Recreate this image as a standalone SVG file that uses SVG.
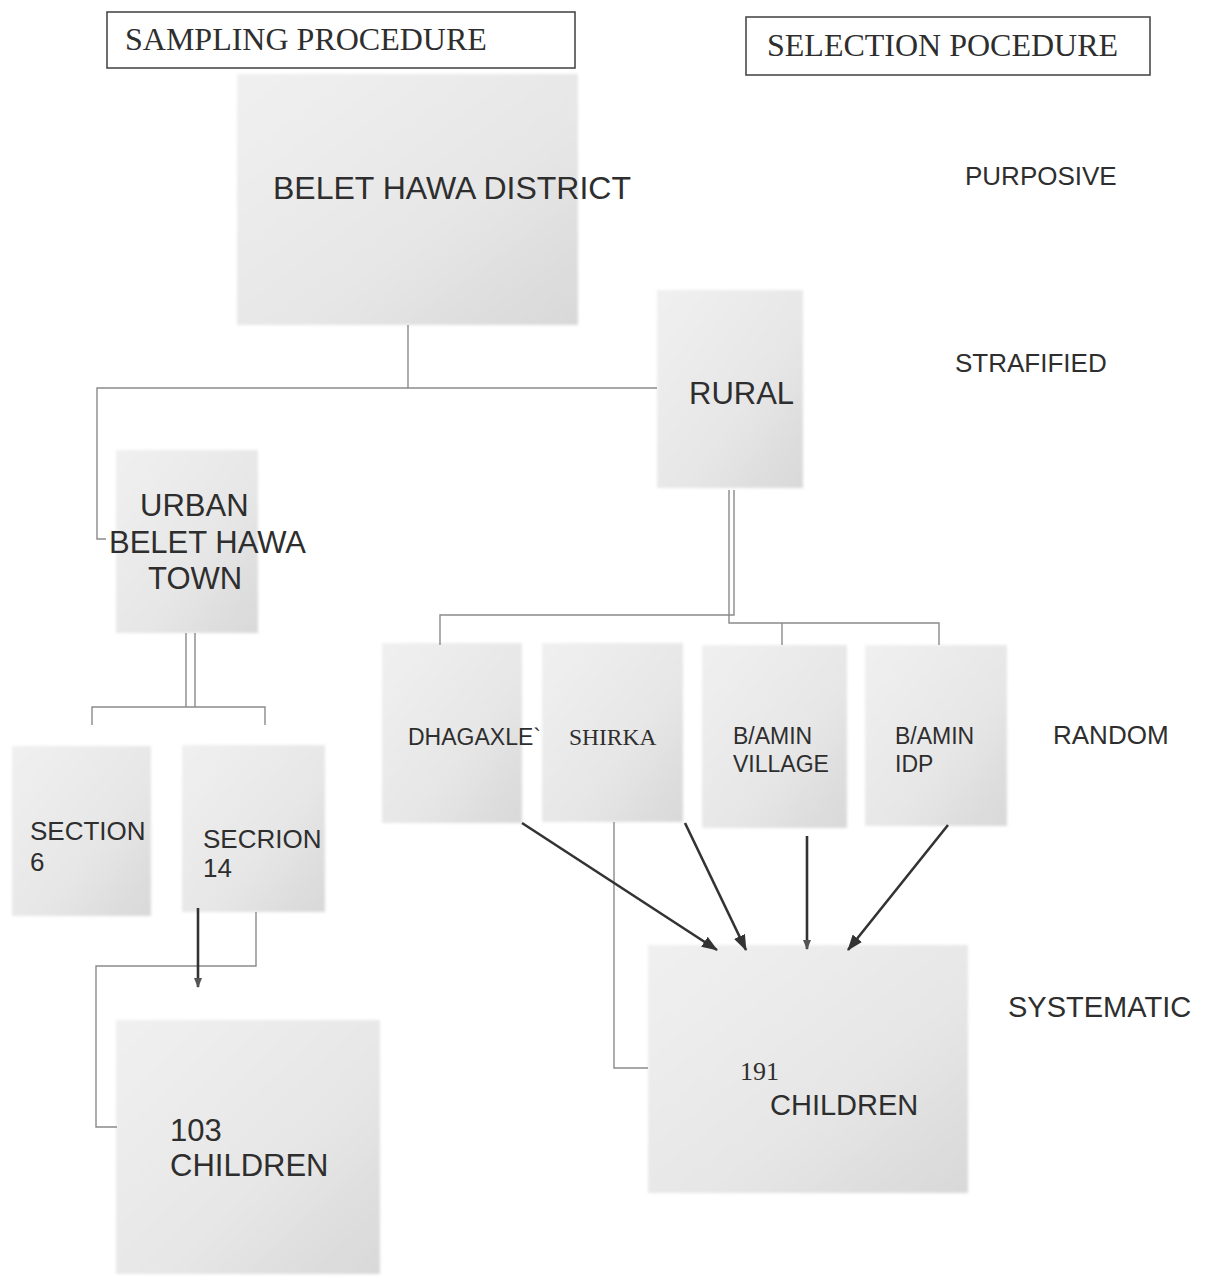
<svg xmlns="http://www.w3.org/2000/svg" width="1211" height="1284" viewBox="0 0 1211 1284">
<style>
.bg{fill:#ffffff}
.box{fill:url(#g);filter:url(#soft)}
.hdr{fill:#ffffff;stroke:#4a4a4a;stroke-width:1.6}
.ts{font-family:"Liberation Serif","Times New Roman",serif;fill:#2e2e2e}
.ta{font-family:"Liberation Sans",Arial,sans-serif;fill:#2e2e2e}
.thin{fill:none;stroke:#8a8a8a;stroke-width:1.4}
.thick{fill:none;stroke:#333333;stroke-width:2.6}
</style>
<defs>
<linearGradient id="g" x1="0" y1="0" x2="1" y2="1">
<stop offset="0" stop-color="#f0f0f0"/>
<stop offset="0.6" stop-color="#e6e6e6"/>
<stop offset="1" stop-color="#d8d8d8"/>
</linearGradient>
<filter id="soft" x="-5%" y="-5%" width="110%" height="110%">
<feGaussianBlur stdDeviation="1.5"/>
</filter>
<marker id="ah" viewBox="0 0 16 12" refX="15" refY="6" markerWidth="16" markerHeight="12" markerUnits="userSpaceOnUse" orient="auto">
<path d="M0,0 L16,6 L0,12 z" fill="#333333"/>
</marker>
<marker id="ahs" viewBox="0 0 10 8" refX="9" refY="4" markerWidth="10" markerHeight="8" markerUnits="userSpaceOnUse" orient="auto">
<path d="M0,0 L10,4 L0,8 z" fill="#555555"/>
</marker>
</defs>
<rect class="bg" x="0" y="0" width="1211" height="1284"/>

<g id="header-sampling">
<rect class="hdr" x="107" y="12" width="468" height="56"/>
<text class="ts" x="125" y="50" font-size="32">SAMPLING PROCEDURE</text>
</g>
<g id="header-selection">
<rect class="hdr" x="746" y="17" width="404" height="58"/>
<text class="ts" x="767" y="56" font-size="32">SELECTION POCEDURE</text>
</g>

<g id="node-district">
<rect class="box" x="237" y="74" width="341" height="251"/>
<text class="ta" x="273" y="199" font-size="32">BELET HAWA DISTRICT</text>
</g>
<g id="node-rural">
<rect class="box" x="657" y="290" width="146" height="198"/>
<text class="ta" x="689" y="404" font-size="31">RURAL</text>
</g>
<g id="node-urban">
<rect class="box" x="116" y="450" width="142" height="183"/>
<text class="ta" font-size="31"><tspan x="140" y="516">URBAN</tspan><tspan x="109" y="553">BELET HAWA</tspan><tspan x="148" y="589">TOWN</tspan></text>
</g>
<g id="node-section6">
<rect class="box" x="12" y="746" width="139" height="170"/>
<text class="ta" font-size="26"><tspan x="30" y="840">SECTION</tspan><tspan x="30" y="871">6</tspan></text>
</g>
<g id="node-section14">
<rect class="box" x="182" y="745" width="143" height="167"/>
<text class="ta" font-size="26"><tspan x="203" y="848">SECRION</tspan><tspan x="203" y="877">14</tspan></text>
</g>
<g id="node-dhagaxley">
<rect class="box" x="382" y="643" width="140" height="180"/>
<text class="ta" x="408" y="745" font-size="23">DHAGAXLE`</text>
</g>
<g id="node-shirka">
<rect class="box" x="542" y="643" width="141" height="179"/>
<text class="ts" x="569" y="745" font-size="23.5">SHIRKA</text>
</g>
<g id="node-bamin-village">
<rect class="box" x="702" y="645" width="145" height="183"/>
<text class="ta" font-size="23"><tspan x="733" y="744">B/AMIN</tspan><tspan x="733" y="772">VILLAGE</tspan></text>
</g>
<g id="node-bamin-idp">
<rect class="box" x="865" y="645" width="142" height="181"/>
<text class="ta" font-size="23"><tspan x="895" y="744">B/AMIN</tspan><tspan x="895" y="772">IDP</tspan></text>
</g>
<g id="node-children-103">
<rect class="box" x="116" y="1020" width="264" height="254"/>
<text class="ta" font-size="31"><tspan x="170" y="1141">103</tspan><tspan x="170" y="1176">CHILDREN</tspan></text>
</g>
<g id="node-children-191">
<rect class="box" x="648" y="945" width="320" height="248"/>
<text class="ts" x="740" y="1080" font-size="26">191</text>
<text class="ta" x="770" y="1115" font-size="29">CHILDREN</text>
</g>

<g id="label-purposive"><text class="ta" x="965" y="185" font-size="26">PURPOSIVE</text></g>
<g id="label-strafified"><text class="ta" x="955" y="372" font-size="26">STRAFIFIED</text></g>
<g id="label-random"><text class="ta" x="1053" y="744" font-size="26">RANDOM</text></g>
<g id="label-systematic"><text class="ta" x="1008" y="1017" font-size="29">SYSTEMATIC</text></g>

<g id="connectors">
<path class="thin" d="M408,325 V388 H657"/>
<path class="thin" d="M408,388 H97 V539 H106"/>
<path class="thin" d="M186,633 V707 M195,633 V707"/>
<path class="thin" d="M92,725 V707 H265 V725"/>
<path class="thin" d="M734,490 V615 H440 V645"/>
<path class="thin" d="M729,490 V623 H939 V645 M782,623 V645"/>
<path class="thin" d="M256,912 V966 H96 V1127 H117"/>
<path class="thin" d="M614,822 V1068 H648"/>
<line class="thick" x1="198" y1="908" x2="198" y2="987" marker-end="url(#ahs)"/>
<line class="thick" x1="522" y1="823" x2="717" y2="950" marker-end="url(#ah)"/>
<line class="thick" x1="685" y1="823" x2="746" y2="950" marker-end="url(#ah)"/>
<line class="thick" x1="807" y1="836" x2="807" y2="949" marker-end="url(#ahs)"/>
<line class="thick" x1="948" y1="825" x2="848" y2="950" marker-end="url(#ah)"/>
</g>
</svg>
